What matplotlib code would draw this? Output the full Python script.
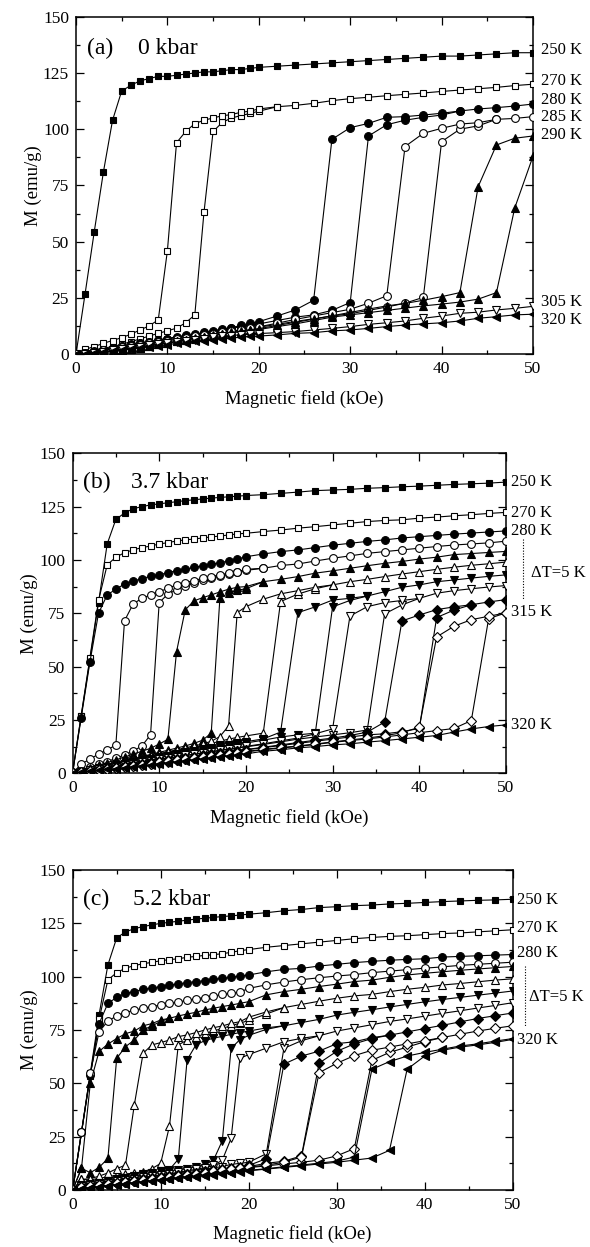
import matplotlib
matplotlib.use("Agg")
import matplotlib.pyplot as plt
from matplotlib.ticker import MultipleLocator
from matplotlib.transforms import blended_transform_factory

plt.rcParams["font.family"] = ["Liberation Serif", "DejaVu Serif"]

# field grid (kOe): 1 kOe steps up to 20, then 2 kOe steps
H = [0, 1, 2, 3, 4, 5, 6, 7, 8, 9, 10, 11, 12, 13, 14, 15, 16, 17, 18, 19, 20,
     22, 24, 26, 28, 30, 32, 34, 36, 38, 40, 42, 44, 46, 48, 50]

# ---- (a) 0 kbar ----
a_250 = [0, 27, 54.5, 81, 104, 117, 119.5, 121.5, 122.5, 123.5, 123.5, 124, 124.5, 125, 125.5, 125.5, 126, 126.5, 126.5, 127, 127.5,
         128, 128.5, 129, 129.5, 130, 130.5, 131, 131.5, 132, 132.5, 132.5, 133, 133.5, 134, 134]
a_270_up = [0, 1.2, 2, 2.7, 3.4, 4.4, 5.6, 6.8, 8.1, 9.3, 10.4, 11.6, 14, 17.5, 63, 99, 103, 105, 106, 107, 108,
            110, 110.6, 111.5, 112.7, 113.6, 114.2, 114.9, 115.5, 116.1, 116.8, 117.4, 118, 118.6, 119.4, 120]
a_270_dn = [0, 2.2, 3.4, 4.9, 6.1, 7.4, 8.9, 10.8, 12.6, 15.3, 46, 94, 99, 102.5, 104, 105, 106, 106.5, 107.5, 108, 109, 110]
a_280_up = [0, 0.5, 1.2, 2, 2.8, 3.5, 4.2, 4.8, 5.4, 6, 6.7, 7.4, 8, 8.5, 9.3, 10, 10.8, 11.5, 12.2, 13, 13.5,
            15, 16.5, 17.5, 19.5, 23, 97, 102, 104, 105.3, 106.3, 108.1, 109, 109.6, 110.3, 111.2]
a_280_dn = [0, 0.6, 1.3, 2.1, 3, 3.8, 4.4, 5, 5.6, 6.3, 7, 7.8, 8.4, 8.8, 9.7, 10.5, 11.2, 11.8, 12.8, 13.8, 14.5,
            17, 19.7, 24, 95.5, 100.7, 102.6, 105.3, 105.6, 106.3, 107.1, 108.1]
a_285_up = [0, 0.4, 1, 1.6, 2.3, 3, 3.6, 4.2, 4.8, 5.4, 6, 6.6, 7.2, 7.8, 8.4, 9, 9.6, 10.2, 10.8, 11.4, 12,
            13.3, 14.6, 15.8, 17, 18, 19.5, 21, 22.7, 25.3, 94.5, 100, 101.5, 104.4, 104.8, 105.6]
a_285_dn = [0, 0.5, 1.1, 1.7, 2.4, 3.1, 3.7, 4.3, 4.9, 5.5, 6.1, 6.7, 7.3, 7.9, 8.5, 9.1, 9.7, 10.3, 10.9, 11.5, 12.2,
            13.8, 15.5, 17, 18.5, 20, 22.7, 26, 92.3, 98.2, 100.4, 102.3, 102.9, 104.4]
a_290_up = [0, 0.3, 0.5, 0.8, 1.2, 1.7, 2.3, 3, 3.7, 4.4, 5, 5.7, 6.3, 7, 7.6, 8.3, 8.9, 9.5, 10, 10.6, 11,
            12.3, 13.5, 15, 16.5, 17.5, 18.5, 19.5, 20.5, 21.5, 22.3, 23.2, 24.5, 27.4, 65, 88]
a_290_dn = [0, 0.4, 0.6, 0.9, 1.3, 1.8, 2.4, 3.1, 3.8, 4.5, 5.1, 5.8, 6.5, 7.2, 7.8, 8.5, 9.1, 9.7, 10.3, 10.9, 11.4,
            12.8, 14.2, 15.6, 17.1, 18.6, 20.1, 21.5, 22.6, 24, 25.6, 27.4, 74.5, 93, 96, 97]
a_305 = [0, 0.3, 0.7, 1.2, 1.7, 2.2, 2.8, 3.3, 3.9, 4.4, 5, 5.5, 6, 6.5, 7, 7.5, 7.9, 8.3, 8.7, 8.9, 9.2,
         9.6, 10.1, 10.8, 11.5, 12.3, 13.3, 14, 14.8, 16, 17, 18.2, 18.7, 19.7, 20.4, 21.3]
a_320 = [0, 0.2, 0.5, 0.9, 1.3, 1.8, 2.3, 2.8, 3.3, 3.8, 4.3, 4.8, 5.2, 5.7, 6.1, 6.5, 6.9, 7.2, 7.6, 7.9, 8.1,
         8.6, 9.3, 9.6, 10.4, 10.8, 11.5, 12.3, 13, 13.5, 14, 14.8, 16, 16.7, 17.5, 17.8]

# ---- (b) 3.7 kbar ----
b_250 = [0, 27, 53, 80, 107.5, 119, 122, 124, 125, 125.8, 126.3, 126.8, 127.3, 127.8, 128.2, 128.6, 129, 129.3, 129.6, 129.9, 130.2,
         130.6, 131.2, 131.8, 132.5, 132.8, 133.1, 133.6, 133.9, 134.3, 134.6, 135, 135.4, 135.7, 136, 136.5]
b_270 = [0, 27, 54, 81, 97.7, 101.3, 103.4, 104.7, 105.8, 106.5, 107.5, 108.1, 108.9, 109.4, 109.8, 110.3, 110.8, 111.2, 111.7, 112.2, 112.5,
         113.3, 114, 114.9, 115.6, 116.4, 117.2, 118, 118.5, 118.8, 119.6, 120.1, 120.7, 121.2, 121.8, 122.3]
b_280 = [0, 26, 52, 75, 83.6, 86.3, 88.7, 90, 91.3, 92.3, 93.1, 94, 95, 95.7, 96.5, 97.2, 98, 98.7, 99.5, 100.4, 101.5,
         102.8, 103.9, 104.7, 105.8, 106.9, 107.8, 108.7, 109.4, 110.3, 110.9, 111.5, 112.1, 112.6, 113.1, 113.6]
b_285_up = [0, 1.5, 3, 4.2, 5.5, 7, 8.6, 10.4, 12.8, 18, 80, 84, 86, 87.8, 89.2, 90.5, 91.7, 92.7, 93.6, 94.4, 95.1,
            96.1, 97.4, 98.1, 99.5, 100.8, 101.9, 103.1, 103.9, 104.7, 105.5, 106.3, 107, 107.5, 108, 108.8]
b_285_dn = [0, 4.3, 6.6, 9, 10.9, 13.3, 71.5, 79.4, 82, 83.6, 85.1, 86.7, 88.3, 89.4, 90.3, 91.4, 92.2, 93, 93.8, 94.5, 95.6, 96.1]
b_290_up = [0, 0.8, 1.8, 2.8, 3.8, 4.8, 5.8, 6.8, 7.8, 8.8, 9.8, 10.8, 11.8, 12.8, 14, 15.5, 18.8, 82, 84.5, 85.8, 86.5,
            89.8, 90.9, 92.2, 93.8, 94.9, 96.1, 97.3, 98.4, 99.3, 100.4, 101.3, 102.5, 103, 103.5, 104]
b_290_dn = [0, 1.2, 2.4, 3.7, 5, 6.3, 7.6, 9, 10.3, 11.7, 13.7, 15.9, 57, 76.6, 80.8, 82.3, 83.6, 85, 86.3, 87.2, 87.5, 89.8]
b_295_up = [0, 0.8, 1.7, 2.6, 3.5, 4.4, 5.3, 6.2, 7.1, 8, 9, 9.8, 10.6, 11.4, 12.2, 13, 14, 15, 16, 16.8, 17.5,
            18.8, 80.5, 84, 86.5, 88.3, 89.8, 90.9, 92.2, 93.4, 94.5, 95.6, 96.6, 97.5, 98.2, 99]
b_295_dn = [0, 1, 1.9, 2.8, 3.7, 4.6, 5.5, 6.4, 7.3, 8.2, 9.2, 10.1, 11, 11.9, 12.8, 13.7, 15, 17.2, 22.2, 75.3, 78.1,
            81.6, 84.1, 85.6, 87.2, 88.3]
b_300_up = [0, 0.7, 1.4, 2.1, 2.8, 3.5, 4.2, 4.9, 5.7, 6.5, 7.3, 8, 8.7, 9.4, 10.1, 10.8, 11.5, 12.2, 12.9, 13.6, 14.2,
            15.5, 17, 18, 18.8, 78, 81, 83.1, 85.1, 87.2, 88.3, 89.8, 90.6, 91.5, 92.3, 93]
b_300_dn = [0, 0.8, 1.5, 2.3, 3, 3.8, 4.5, 5.2, 6, 6.8, 7.6, 8.3, 9, 9.8, 10.5, 11.2, 12, 12.7, 13.4, 14.1, 14.8,
            16.1, 19.3, 75.3, 78, 81.2, 82, 83.1]
b_305_up = [0, 0.6, 1.2, 1.8, 2.4, 3, 3.6, 4.2, 4.9, 5.6, 6.3, 7, 7.6, 8.2, 8.8, 9.4, 10, 10.6, 11.2, 11.8, 12.4,
            13.5, 14.7, 16, 17, 18, 19, 20.3, 74.7, 78.9, 82, 84.4, 85.6, 86.5, 87.3, 88]
b_305_dn = [0, 0.7, 1.3, 1.9, 2.5, 3.1, 3.7, 4.4, 5.1, 5.8, 6.5, 7.2, 7.8, 8.4, 9, 9.6, 10.2, 10.8, 11.4, 12, 12.6,
            13.8, 15.2, 16.5, 18.5, 20.8, 73.7, 78.1, 80, 81, 82]
b_310_up = [0, 0.5, 1.1, 1.6, 2.2, 2.7, 3.3, 3.8, 4.4, 5, 5.5, 6.1, 6.6, 7.2, 7.7, 8.3, 8.8, 9.4, 9.9, 10.4, 11,
            12, 13, 14, 15, 16, 17, 18, 18.5, 19.5, 21, 73, 76.5, 79, 80.3, 81.4]
b_310_dn = [0, 0.6, 1.2, 1.7, 2.3, 2.8, 3.4, 3.9, 4.5, 5.1, 5.6, 6.2, 6.7, 7.3, 7.8, 8.4, 8.9, 9.5, 10, 10.5, 11.1,
            12.2, 13.3, 14.4, 15.5, 16.5, 17.7, 19.3, 24, 71.4, 74.2, 76.7, 78, 79]
b_315_up = [0, 0.5, 1, 1.5, 2, 2.5, 3, 3.5, 4, 4.5, 5, 5.5, 6, 6.5, 7, 7.5, 8, 8.5, 9, 9.5, 10,
            11, 11.8, 12.6, 13.5, 14.5, 15.3, 16.1, 17, 18, 19, 20, 21, 24.7, 72.5, 75.2]
b_315_dn = [0, 0.5, 1, 1.5, 2, 2.5, 3, 3.5, 4, 4.5, 5.1, 5.6, 6.1, 6.6, 7.1, 7.6, 8.1, 8.6, 9.1, 9.6, 10.2,
            11.2, 12, 12.8, 13.7, 14.7, 15.6, 16.5, 17.6, 19, 21.6, 63.9, 68.9, 72, 73.6, 75.2]
b_320 = [0, 0.4, 0.9, 1.3, 1.8, 2.2, 2.7, 3.1, 3.6, 4, 4.5, 4.9, 5.4, 5.8, 6.3, 6.7, 7.2, 7.6, 8.1, 8.6, 9.1,
         10.3, 11, 11.9, 12.5, 13.3, 13.8, 14.6, 15.3, 16.1, 16.9, 17.7, 19.3, 20.8, 21.9, 22.7]

# ---- (c) 5.2 kbar ----
c_250 = [0, 27, 54.7, 82.2, 105.5, 118.2, 121, 122.5, 123.5, 124.3, 125, 125.5, 126, 126.5, 127, 127.4, 127.8, 128.2, 128.5, 128.9, 129.3,
         130, 130.9, 131.5, 132.4, 132.8, 133.3, 133.6, 134.1, 134.4, 134.8, 135.2, 135.5, 135.8, 136, 136.3]
c_270 = [0, 27, 53.5, 80, 98.5, 101.9, 104, 105.2, 106.1, 106.7, 107.5, 108, 108.4, 109.1, 109.5, 110, 110.3, 110.8, 111.4, 112.2, 112.7,
         113.8, 114.6, 115.4, 116.2, 117, 117.8, 118.4, 118.9, 119.2, 119.7, 120.2, 120.5, 121, 121.5, 122]
c_280 = [0, 27, 54, 78, 87.5, 90.3, 92.2, 93, 94.1, 94.6, 95.4, 96.1, 96.6, 97.2, 97.7, 98.1, 98.8, 99.2, 99.7, 100.3, 100.8,
         102.3, 103.4, 103.9, 105, 105.8, 106.6, 107.2, 107.7, 108.1, 108.4, 109.2, 109.5, 109.8, 110.1, 110.4]
c_285 = [0, 27.3, 54.7, 74.2, 79.2, 81.6, 83.2, 84.3, 85.2, 86, 86.7, 87.5, 88.1, 88.9, 89.7, 90.2, 90.9, 91.7, 92.2, 92.8, 94.5,
         96.2, 97.5, 98.6, 99.5, 100.3, 101, 101.9, 102.6, 103.3, 104, 104.6, 105.3, 105.8, 106.3, 106.8]
c_290_up = [0, 10.2, 8.1, 10.6, 14.8, 61.7, 67.2, 70.3, 75, 77, 79, 80.5, 81.6, 82.5, 83.3, 84.4, 85.2, 86, 86.7, 87.5, 88.3,
            91.5, 93, 94.1, 95.4, 96.5, 97.7, 98.4, 99.7, 100.8, 101.6, 102.3, 103, 103.6, 104.2, 104.8]
c_290_dn = [0, 10.2, 50, 65, 68.4, 71, 73.3, 74.5, 77, 78, 79.7, 80.5]
c_295_up = [0, 5, 4.7, 5.5, 6.2, 7, 7.5, 8, 8.5, 10, 12.5, 30, 68, 70.3, 71.9, 73.1, 74.5, 75.8, 77, 78.2, 79.5,
            82.5, 85.5, 87, 88.5, 89.9, 91, 91.7, 93, 94.1, 95, 96.1, 96.8, 97.6, 98.4, 99]
c_295_dn = [0, 5, 5.3, 6.5, 8, 10, 11.7, 39.8, 64.1, 68, 69.1, 70.3, 71.9, 72.7, 73.8, 75, 76.1, 76.9, 78.1, 78.9, 81,
            83.5, 85.5]
c_300_up = [0, 2, 2.5, 3.2, 4, 4.8, 5.5, 6.2, 7, 7.7, 8.3, 9, 9.5, 10, 11, 12, 14, 23.1, 66.4, 70.5, 72.5,
            75.3, 77, 78.5, 80, 82, 83.3, 84.5, 85.8, 87, 88.2, 89.3, 90.3, 91.3, 92.3, 93.3]
c_300_dn = [0, 2.2, 2.8, 3.5, 4.3, 5.1, 5.8, 6.5, 7.3, 8, 8.8, 9.6, 14.4, 61, 68, 70, 71.2, 72, 73, 73.8, 74.5,
            76, 77]
c_305_up = [0, 1.5, 2, 2.6, 3.2, 3.8, 4.4, 5, 5.6, 6.2, 6.8, 7.4, 8, 8.6, 9.2, 9.8, 10.4, 11, 12, 12.5, 13,
            17, 66.4, 70, 72.3, 74.5, 76, 77.5, 79, 80.2, 81.5, 82.8, 84, 85.3, 86.5, 87.8]
c_305_dn = [0, 1.7, 2.3, 2.9, 3.5, 4.1, 4.7, 5.3, 5.9, 6.5, 7.1, 7.7, 8.3, 9, 9.7, 10.4, 11.5, 14, 24.2, 61.7, 63.5,
            66.5, 69.5, 71.1, 72.3]
c_310_up = [0, 1.3, 1.8, 2.3, 2.8, 3.3, 3.9, 4.4, 5, 5.5, 6, 6.5, 7, 7.5, 8, 8.5, 9, 9.5, 10, 10.5, 11,
            12.5, 13.5, 16, 59.5, 65, 68.5, 71, 72.6, 74.1, 75.7, 77.2, 78.8, 80.4, 81.7, 83]
c_310_dn = [0, 1.4, 1.9, 2.4, 2.9, 3.5, 4, 4.6, 5.2, 5.7, 6.2, 6.7, 7.2, 7.7, 8.2, 8.7, 9.2, 9.7, 10.2, 10.8, 11.5,
            14.7, 59, 62.8, 65.1, 68.6, 69.5, 71.4, 72.6]
c_315_up = [0, 1.2, 1.6, 2.1, 2.6, 3.1, 3.6, 4.1, 4.6, 5.1, 5.6, 6.1, 6.6, 7.1, 7.6, 8.1, 8.6, 9.1, 9.6, 10.1, 10.5,
            11.3, 12.2, 13, 14, 16, 19.4, 60.8, 64.5, 67, 69.5, 71.5, 73, 74.5, 75.8, 77]
c_315_dn = [0, 1.3, 1.7, 2.2, 2.7, 3.2, 3.7, 4.2, 4.7, 5.2, 5.7, 6.2, 6.7, 7.2, 7.7, 8.2, 8.7, 9.2, 9.7, 10.2, 10.7,
            11.7, 13, 15.5, 55, 59.4, 63, 65.5, 67, 68.5, 70, 71.5]
c_320_up = [0, 0.5, 0.9, 1.4, 1.8, 2.3, 2.7, 3.2, 3.6, 4.1, 4.5, 5, 5.4, 5.9, 6.3, 6.8, 7.2, 7.7, 8.1, 8.6, 9,
            9.8, 10.6, 11.4, 12.2, 13, 14, 15, 18.6, 56.6, 62.8, 65.5, 67, 68, 69.2, 70.6]
c_320_dn = [0, 0.6, 1, 1.5, 1.9, 2.4, 2.8, 3.3, 3.7, 4.2, 4.6, 5.1, 5.5, 6, 6.4, 6.9, 7.3, 7.8, 8.2, 8.7, 9.2,
            10, 10.9, 11.7, 12.6, 13.5, 15.5, 56.6, 60.2, 62.8, 64.5, 66, 67.5, 68.5, 69.8, 71]

# marker per temperature: (shape, filled)
MARK = {250: ("s", True), 270: ("s", False), 280: ("o", True), 285: ("o", False),
        290: ("^", True), 295: ("^", False), 300: ("v", True), 305: ("v", False),
        310: ("D", True), 315: ("D", False), 320: ("<", True)}
MSIZE = {"s": 5.0, "o": 5.6, "^": 6.1, "v": 6.1, "D": 4.8, "<": 6.1}

curves_a = [(250, a_250), (270, a_270_up), (270, a_270_dn), (280, a_280_up), (280, a_280_dn),
            (285, a_285_up), (285, a_285_dn), (290, a_290_up), (290, a_290_dn), (305, a_305), (320, a_320)]
curves_b = [(250, b_250), (270, b_270), (280, b_280), (285, b_285_up), (285, b_285_dn),
            (290, b_290_up), (290, b_290_dn), (295, b_295_up), (295, b_295_dn), (300, b_300_up), (300, b_300_dn),
            (305, b_305_up), (305, b_305_dn), (310, b_310_up), (310, b_310_dn), (315, b_315_up), (315, b_315_dn),
            (320, b_320)]
curves_c = [(250, c_250), (270, c_270), (280, c_280), (285, c_285), (290, c_290_up), (290, c_290_dn),
            (295, c_295_up), (295, c_295_dn), (300, c_300_up), (300, c_300_dn), (305, c_305_up), (305, c_305_dn),
            (310, c_310_up), (310, c_310_dn), (315, c_315_up), (315, c_315_dn), (320, c_320_up), (320, c_320_dn)]

labels_a = [("250 K", 135), ("270 K", 121.4), ("280 K", 113), ("285 K", 105.3), ("290 K", 97.4),
            ("305 K", 23.4), ("320 K", 15.2)]
labels_b = [("250 K", 136.4), ("270 K", 122), ("280 K", 113.7), ("315 K", 75.8), ("320 K", 22.6)]
labels_c = [("250 K", 136), ("270 K", 122.7), ("280 K", 111), ("320 K", 70.3)]


def draw_panel(ax, curves, labels, tag, pressure, label_x, dt=None):
    for temp, m in curves:
        shape, filled = MARK[temp]
        ax.plot(H[:len(m)], m, color="black", lw=0.8, marker=shape, ms=MSIZE[shape],
                mfc="black" if filled else "white", mec="black", mew=0.8, zorder=3)
    ax.set_xlim(0, 50)
    ax.set_ylim(0, 150)
    ax.xaxis.set_major_locator(MultipleLocator(10))
    ax.xaxis.set_minor_locator(MultipleLocator(5))
    ax.yaxis.set_major_locator(MultipleLocator(25))
    ax.yaxis.set_minor_locator(MultipleLocator(12.5))
    ax.tick_params(which="both", direction="in", top=True, right=True, width=0.9, labelsize=12.5, pad=5)
    ax.tick_params(which="major", length=5.5)
    ax.tick_params(which="minor", length=3)
    for sp in ax.spines.values():
        sp.set_linewidth(1.1)
    ax.set_xlabel("Magnetic field (kOe)", fontsize=13.5, labelpad=9)
    ax.set_ylabel("M (emu/g)", fontsize=13.5, labelpad=1)
    ax.text(1.2, 133.5, tag, fontsize=17, va="baseline")
    ax.text(6.8, 133.5, pressure, fontsize=17, va="baseline")

    tr = blended_transform_factory(ax.transAxes, ax.transData)
    for txt, y in labels:
        ax.text(label_x, y, txt, transform=tr, fontsize=12, va="center", clip_on=False)
    if dt is not None:
        line_x, y_top, y_bot, text_x, text_y = dt
        ax.plot([line_x, line_x], [y_top, y_bot], transform=tr, color="black", lw=0.8,
                ls=(0, (1, 1.5)), clip_on=False)
        ax.text(text_x, text_y, "ΔT=5 K", transform=tr, fontsize=12, va="center", clip_on=False)


fig = plt.figure(figsize=(5.9, 12.47), dpi=100)
ax_a = fig.add_axes([0.1288, 0.7159, 0.7746, 0.2707])
ax_b = fig.add_axes([0.1229, 0.3799, 0.7347, 0.2566])
ax_c = fig.add_axes([0.1232, 0.0457, 0.7458, 0.2566])

draw_panel(ax_a, curves_a, labels_a, "(a)", "0 kbar", 1.0175)
draw_panel(ax_b, curves_b, labels_b, "(b)", "3.7 kbar", 1.0115, dt=(1.039, 110, 81, 1.058, 94))
draw_panel(ax_c, curves_c, labels_c, "(c)", "5.2 kbar", 1.01, dt=(1.028, 105, 77, 1.037, 90.6))

fig.savefig("out.png", dpi=100)
